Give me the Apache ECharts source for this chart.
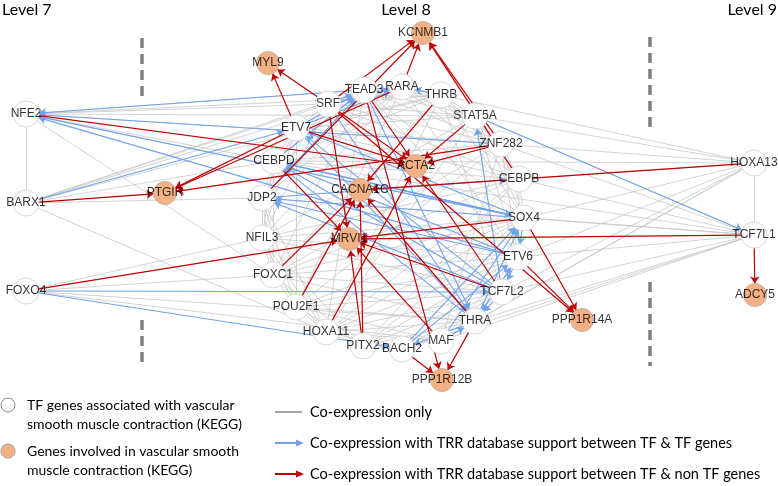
<!DOCTYPE html>
<html>
<head>
<meta charset="utf-8">
<script src="https://cdn.jsdelivr.net/npm/echarts@6/dist/echarts.min.js"></script>
<style>html,body{margin:0;padding:0;background:#fff}#c{width:778px;height:486px}</style>
</head>
<body>
<div id="c"></div>
<script>
// ---- data ----
const nodeNames = ['KCNMB1','MYL9','SRF','TEAD3','RARA','THRB','STAT5A','ETV7','ZNF282','CEBPD','ACTA2','CEBPB','JDP2','CACNA1C','PTGIR','NFE2','BARX1','NFIL3','MRVI1','SOX4','ETV6','TCF7L1','HOXA13','FOXC1','FOXO4','TCF7L2','POU2F1','ADCY5','PPP1R14A','THRA','HOXA11','MAF','PITX2','BACH2','PPP1R12B'];
const nodeX = [423,268,328,364,402,441,475,296,501,274,416,519,262,360,165,26,26,262,349,524,518,754,754,273,26,502,296,755,582,475,326,441,363,402,442];
const nodeY = [33,63,104,90,87,95,116,128,144,161,166,179,198,190,193,114,203,238,239,218,257,235,163,275,291,292,307,295,320,321,332,341,346,349,380];
const geneNodes = ['KCNMB1','MYL9','ACTA2','CACNA1C','PTGIR','MRVI1','ADCY5','PPP1R14A','PPP1R12B'];
const levelLabels = ['Level 7','Level 8','Level 9'];

const redLinks = [
 ['SRF','KCNMB1'],['JDP2','KCNMB1'],['RARA','KCNMB1'],['ZNF282','KCNMB1'],['CEBPB','KCNMB1'],
 ['SRF','MYL9'],['ETV7','MYL9'],
 ['ETV7','PTGIR'],['RARA','PTGIR'],['ZNF282','PTGIR'],['BARX1','PTGIR'],
 ['NFE2','ACTA2'],['SRF','ACTA2'],['TEAD3','ACTA2'],['STAT5A','ACTA2'],['ZNF282','ACTA2'],['ETV7','ACTA2'],['HOXA11','ACTA2'],['TCF7L2','ACTA2'],
 ['THRB','CACNA1C'],['FOXC1','CACNA1C'],['POU2F1','CACNA1C'],['PITX2','CACNA1C'],['THRA','CACNA1C'],['HOXA13','CACNA1C'],
 ['SRF','MRVI1'],['CEBPD','MRVI1'],['FOXO4','MRVI1'],['PITX2','MRVI1'],['MAF','MRVI1'],['TCF7L2','MRVI1'],['SOX4','MRVI1'],['TCF7L1','MRVI1'],
 ['TEAD3','PPP1R12B'],['BACH2','PPP1R12B'],['THRA','PPP1R12B'],
 ['SRF','PPP1R14A'],['ETV6','PPP1R14A'],['SOX4','PPP1R14A'],
 ['TCF7L1','ADCY5']
];
const blueLinks = [
 ['RARA','NFE2'],['ZNF282','NFE2'],['SOX4','NFE2'],['ETV6','NFE2'],['BARX1','ETV7'],
 ['FOXO4','TCF7L2'],['FOXO4','BACH2'],['STAT5A','TCF7L1'],
 ['SRF','TEAD3'],['SRF','RARA'],['ETV7','TEAD3'],['ETV7','RARA'],['THRB','RARA'],['CEBPD','TEAD3'],['JDP2','TEAD3'],
 ['SOX4','ETV7'],['SOX4','CEBPD'],['SOX4','JDP2'],['SOX4','ETV6'],
 ['ETV6','CEBPD'],['ETV6','JDP2'],['ETV6','TCF7L2'],['ETV6','THRA'],
 ['TCF7L2','CEBPD'],['TCF7L2','JDP2'],['TCF7L2','THRA'],['TCF7L2','STAT5A'],['TCF7L2','ETV7'],
 ['THRA','SOX4'],['THRA','ETV6'],['THRA','BACH2'],['THRA','CEBPD'],
 ['MAF','SOX4'],['MAF','THRA'],['BACH2','SOX4'],['BACH2','ETV6'],
 ['SRF','THRA'],['TEAD3','THRA'],['ETV7','THRA'],['JDP2','CEBPB'],['CEBPD','SOX4']
];
const grayLinks = [
 ['NFE2','BARX1'],['NFE2','SRF'],['NFE2','TEAD3'],['NFE2','STAT5A'],['NFE2','THRB'],['NFE2','CEBPD'],['NFE2','FOXC1'],['NFE2','ZNF282'],
 ['BARX1','SRF'],['BARX1','TEAD3'],['BARX1','RARA'],['BARX1','CEBPD'],['BARX1','HOXA11'],['BARX1','THRB'],['BARX1','JDP2'],
 ['FOXO4','FOXC1'],['FOXO4','THRA'],['FOXO4','MAF'],['FOXO4','NFIL3'],
 ['HOXA13','TCF7L1'],['HOXA13','THRB'],['HOXA13','ZNF282'],['HOXA13','CEBPD'],['HOXA13','CEBPB'],['HOXA13','SOX4'],['HOXA13','ETV6'],['HOXA13','TCF7L2'],['HOXA13','THRA'],['HOXA13','STAT5A'],['HOXA13','MAF'],
 ['TCF7L1','CEBPB'],['TCF7L1','ZNF282'],['TCF7L1','SOX4'],['TCF7L1','ETV6'],['TCF7L1','TCF7L2'],['TCF7L1','THRA'],['TCF7L1','MAF'],['TCF7L1','CEBPD'],['TCF7L1','JDP2'],['TCF7L1','BACH2'],['TCF7L1','STAT5A'],
 ['SRF','THRB'],['SRF','STAT5A'],['SRF','ETV7'],['SRF','CEBPD'],['SRF','JDP2'],['SRF','NFIL3'],['SRF','ZNF282'],['SRF','CEBPB'],
 ['TEAD3','THRB'],['TEAD3','STAT5A'],['TEAD3','ZNF282'],['TEAD3','CEBPD'],['TEAD3','JDP2'],['TEAD3','SOX4'],['TEAD3','ETV6'],['TEAD3','HOXA11'],['TEAD3','FOXC1'],
 ['RARA','THRB'],['RARA','STAT5A'],['RARA','CEBPB'],['RARA','ZNF282'],['RARA','JDP2'],['RARA','NFIL3'],['RARA','POU2F1'],['RARA','ETV6'],
 ['THRB','STAT5A'],['THRB','ZNF282'],['THRB','CEBPB'],['THRB','SOX4'],['THRB','ETV7'],['THRB','CEBPD'],['THRB','FOXC1'],['THRB','HOXA11'],['THRB','TCF7L2'],
 ['STAT5A','ZNF282'],['STAT5A','CEBPB'],['STAT5A','ETV7'],['STAT5A','SOX4'],['STAT5A','ETV6'],['STAT5A','NFIL3'],['STAT5A','HOXA11'],
 ['ETV7','CEBPD'],['ETV7','JDP2'],['ETV7','NFIL3'],['ETV7','CEBPB'],['ETV7','ZNF282'],['ETV7','POU2F1'],
 ['ZNF282','CEBPB'],['ZNF282','CEBPD'],['ZNF282','SOX4'],['ZNF282','ETV6'],['ZNF282','FOXC1'],['ZNF282','POU2F1'],['ZNF282','MAF'],
 ['CEBPD','JDP2'],['CEBPD','NFIL3'],['CEBPD','CEBPB'],['CEBPD','FOXC1'],['CEBPD','ETV6'],
 ['CEBPB','SOX4'],['CEBPB','ETV6'],['CEBPB','NFIL3'],['CEBPB','HOXA11'],['CEBPB','PITX2'],['CEBPB','FOXC1'],
 ['JDP2','NFIL3'],['JDP2','FOXC1'],['JDP2','POU2F1'],['JDP2','HOXA11'],
 ['NFIL3','FOXC1'],['NFIL3','POU2F1'],['NFIL3','HOXA11'],['NFIL3','SOX4'],['NFIL3','ETV6'],['NFIL3','TCF7L2'],['NFIL3','PITX2'],
 ['SOX4','FOXC1'],['SOX4','POU2F1'],['SOX4','HOXA11'],['SOX4','PITX2'],
 ['ETV6','FOXC1'],['ETV6','POU2F1'],['ETV6','HOXA11'],['ETV6','PITX2'],['ETV6','MAF'],
 ['FOXC1','POU2F1'],['FOXC1','HOXA11'],['FOXC1','PITX2'],['FOXC1','TCF7L2'],['FOXC1','THRA'],
 ['TCF7L2','POU2F1'],['TCF7L2','HOXA11'],['TCF7L2','PITX2'],['TCF7L2','BACH2'],['TCF7L2','MAF'],
 ['POU2F1','HOXA11'],['POU2F1','PITX2'],['POU2F1','THRA'],['POU2F1','MAF'],
 ['HOXA11','PITX2'],['HOXA11','THRA'],['HOXA11','MAF'],['HOXA11','BACH2'],
 ['PITX2','BACH2'],['PITX2','THRA'],['PITX2','MAF']
];
const legendNodeText = [['TF genes associated with vascular','smooth muscle contraction (KEGG)'],['Genes involved in vascular smooth','muscle contraction (KEGG)']];
const legendEdgeText = ['Co-expression only','Co-expression with TRR database support between TF & TF genes','Co-expression with TRR database support between TF & non TF genes'];

// ---- styles ----
const C_GRAY = '#c8c8c8', C_BLUE = '#72a2ec', C_RED = '#c00000', C_ORANGE = '#F4B183';
const LEGEND_FONT = 'Lato, "Open Sans", sans-serif';
const TINY = 0.01;

const nodes = nodeNames.map((n, i) => {
  const gene = geneNodes.indexOf(n) >= 0;
  return {
    name: n,
    value: [nodeX[i], nodeY[i]],
    symbolSize: gene ? 23 : 26,
    itemStyle: gene ? {color: C_ORANGE, borderColor: '#c4b4a8', borderWidth: 1}
                    : {color: '#ffffff', borderColor: '#d9d9d9', borderWidth: 1}
  };
});
function mk(list, color, width, arrow) {
  return list.map(p => ({
    source: p[0], target: p[1],
    symbol: ['circle', arrow ? 'arrow' : 'circle'],
    symbolSize: [TINY, arrow ? 7 : TINY],
    lineStyle: {color: color, width: width, opacity: 1, curveness: 0}
  }));
}
const links = [].concat(mk(grayLinks, C_GRAY, 0.8, false), mk(blueLinks, C_BLUE, 1.1, true), mk(redLinks, C_RED, 1.2, true));

function dashed(x, y1, y2) {
  return {type: 'line', shape: {x1: x, y1: y1, x2: x, y2: y2}, style: {stroke: '#7f7f7f', lineWidth: 3.5, lineDash: [10, 6]}, silent: true};
}
function arrowLine(y, color) {
  return [
    {type: 'line', shape: {x1: 275, y1: y, x2: 297, y2: y}, style: {stroke: color, lineWidth: 2}},
    {type: 'polygon', shape: {points: [[296, y - 3.5], [304, y], [296, y + 3.5]]}, style: {fill: color}}
  ];
}
const txt = (x, y, s, extra) => ({type: 'text', x: x, y: y, style: Object.assign({text: s, fill: '#000', font: '14.5px ' + LEGEND_FONT, textVerticalAlign: 'middle'}, extra || {})});
const LEFT = {font: '14px ' + LEGEND_FONT};

const graphic = [
  txt(2, 10, levelLabels[0], {font: '16px ' + LEGEND_FONT}),
  txt(406, 10, levelLabels[1], {font: '16px ' + LEGEND_FONT, textAlign: 'center'}),
  txt(777, 10, levelLabels[2], {font: '16px ' + LEGEND_FONT, textAlign: 'right'}),
  dashed(142, 38, 98), dashed(142, 320, 368), dashed(650, 37, 131), dashed(650, 282, 366),
  {type: 'circle', shape: {cx: 8, cy: 405, r: 7}, style: {fill: '#fff', stroke: '#888', lineWidth: 1}},
  txt(27, 405, legendNodeText[0][0], LEFT), txt(27, 424, legendNodeText[0][1], LEFT),
  {type: 'circle', shape: {cx: 8, cy: 451, r: 7}, style: {fill: C_ORANGE, stroke: '#999', lineWidth: 1}},
  txt(27, 451, legendNodeText[1][0], LEFT), txt(27, 470, legendNodeText[1][1], LEFT),
  {type: 'line', shape: {x1: 275, y1: 412, x2: 302, y2: 412}, style: {stroke: '#a6a6a6', lineWidth: 2}},
  txt(310, 412, legendEdgeText[0])
].concat(arrowLine(443, C_BLUE), [txt(310, 443, legendEdgeText[1])], arrowLine(474, C_RED), [txt(310, 474, legendEdgeText[2])]);

const chart = echarts.init(document.getElementById('c'), null, {renderer: 'canvas'});
chart.setOption({
  animation: false,
  backgroundColor: '#fff',
  grid: {left: 0, right: 0, top: 0, bottom: 0, containLabel: false},
  xAxis: {type: 'value', min: 0, max: 778, show: false},
  yAxis: {type: 'value', min: 0, max: 486, inverse: true, show: false},
  graphic: graphic,
  series: [{
    type: 'graph',
    layout: 'none',
    coordinateSystem: 'cartesian2d',
    data: nodes,
    links: links,
    label: {show: false},
    emphasis: {disabled: true},
    silent: true,
    z: 2
  }, {
    type: 'scatter',
    coordinateSystem: 'cartesian2d',
    data: nodeNames.map((n, i) => ({name: n, value: [nodeX[i], nodeY[i]]})),
    symbolSize: 0,
    z: 5,
    silent: true,
    label: {show: true, position: 'inside', formatter: '{b}', color: '#000', fontSize: 12, fontFamily: '"Liberation Sans", Arial, sans-serif'},
    emphasis: {disabled: true}
  }]
});
</script>
</body>
</html>
